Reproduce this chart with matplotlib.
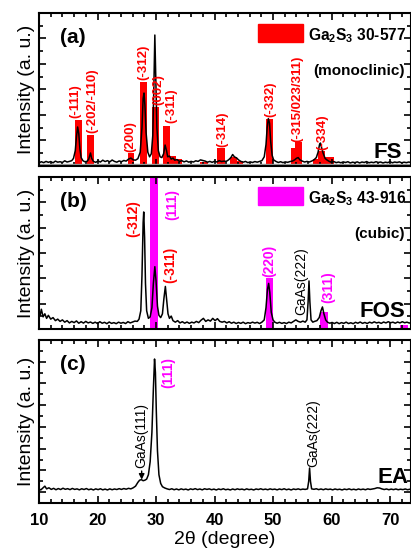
import matplotlib
matplotlib.use("Agg")
import matplotlib.pyplot as plt
from matplotlib.patches import Rectangle
from matplotlib.ticker import MultipleLocator

plt.rcParams["font.family"] = ["Liberation Sans", "DejaVu Sans"]
plt.rcParams["mathtext.fontset"] = "custom"
plt.rcParams["mathtext.rm"] = "Liberation Sans:bold"
plt.rcParams["mathtext.default"] = "rm"

RED = "#ff0000"
MAG = "#ff00ff"

# ─── (a) FS: measured pattern (2theta, intensity) ────────────────────────────
fs_points = [
    (10.0, 2.0), (10.4, 2.8), (10.8, 2.2), (11.2, 3.0), (11.6, 2.4), (12.0, 2.9), (12.4, 2.1), (12.8, 3.2), (13.2, 2.5), (13.6, 2.8),
    (14.0, 2.3), (14.4, 3.4), (14.8, 2.6), (15.2, 3.0), (15.6, 3.5), (15.9, 5.0), (16.2, 10.0), (16.4, 19.0), (16.6, 25.5), (16.8, 21.0),
    (17.0, 11.0), (17.2, 5.5), (17.5, 3.5), (17.8, 2.8), (18.2, 3.0), (18.5, 4.5), (18.8, 8.5), (19.0, 5.0), (19.3, 3.0), (19.7, 2.4),
    (20.1, 3.3), (20.5, 2.6), (20.9, 3.8), (21.3, 2.9), (21.7, 3.5), (22.1, 2.7), (22.5, 3.9), (22.9, 3.0), (23.3, 2.5), (23.7, 3.3),
    (24.1, 2.8), (24.5, 3.6), (24.9, 3.2), (25.3, 4.5), (25.7, 5.2), (26.1, 4.0), (26.5, 3.8), (26.9, 4.8), (27.3, 9.0), (27.6, 25.0),
    (27.8, 44.0), (27.95, 47.7), (28.1, 40.0), (28.3, 22.0), (28.6, 9.0), (28.9, 6.0), (29.2, 8.0), (29.45, 20.0), (29.65, 55.0), (29.8, 85.6),
    (29.95, 60.0), (30.15, 25.0), (30.4, 10.0), (30.7, 6.0), (31.0, 5.5), (31.3, 8.0), (31.55, 13.7), (31.8, 10.0), (32.0, 6.0), (32.3, 6.5),
    (32.6, 4.5), (32.9, 5.2), (33.2, 3.8), (33.6, 4.2), (34.0, 3.0), (34.4, 3.5), (34.8, 2.7), (35.2, 3.3), (35.6, 2.5), (36.0, 3.0),
    (36.4, 2.6), (36.8, 3.4), (37.2, 3.0), (37.6, 4.0), (38.0, 3.6), (38.4, 3.2), (38.8, 2.5), (39.2, 3.0), (39.6, 2.4), (40.0, 3.1),
    (40.4, 2.6), (40.8, 3.5), (41.2, 2.9), (41.6, 3.2), (42.0, 3.0), (42.4, 4.0), (42.8, 5.5), (43.1, 7.5), (43.4, 6.0), (43.8, 5.2),
    (44.1, 4.0), (44.5, 3.0), (44.9, 2.5), (45.3, 3.0), (45.7, 2.2), (46.1, 2.7), (46.5, 2.3), (46.9, 2.9), (47.3, 2.5), (47.7, 3.0),
    (48.1, 3.5), (48.5, 6.0), (48.8, 14.0), (49.0, 25.0), (49.2, 31.0), (49.4, 28.0), (49.6, 16.0), (49.85, 7.0), (50.1, 4.0), (50.5, 3.0),
    (50.9, 2.3), (51.3, 2.8), (51.7, 2.2), (52.1, 2.7), (52.5, 2.4), (52.9, 2.9), (53.3, 3.2), (53.7, 4.0), (54.0, 5.0), (54.3, 5.5),
    (54.6, 4.0), (55.0, 3.2), (55.4, 2.6), (55.8, 3.0), (56.2, 2.6), (56.6, 3.2), (57.0, 4.0), (57.4, 5.5), (57.7, 9.0), (57.95, 14.0),
    (58.1, 15.0), (58.3, 12.0), (58.6, 8.0), (58.9, 5.0), (59.2, 4.0), (59.6, 3.0), (60.0, 2.4), (60.4, 2.9), (60.8, 2.2), (61.2, 2.6),
    (61.6, 2.1), (62.0, 2.7), (62.4, 2.3), (62.8, 2.8), (63.2, 2.0), (63.6, 2.5), (64.0, 2.2), (64.4, 2.7), (64.8, 2.0), (65.2, 2.6),
    (65.6, 2.3), (66.0, 2.9), (66.4, 2.1), (66.8, 2.5), (67.2, 2.2), (67.6, 2.8), (68.0, 2.3), (68.4, 2.6), (68.8, 2.0), (69.2, 2.5),
    (69.6, 2.2), (70.0, 2.8), (70.4, 2.1), (70.8, 2.6), (71.2, 2.3), (71.6, 2.7), (72.0, 2.1), (72.4, 2.5), (72.8, 2.2), (73.2, 2.6), (73.6, 2.3),
]

# Ga2S3 30-577 reference lines (monoclinic)
fs_ref_pos    = [16.7, 18.8, 25.7, 27.9, 29.9, 31.8, 32.9, 33.9, 38.2, 41.1, 43.25,
                 44.35, 47.95, 49.4, 53.5, 54.4, 57.25, 58.3, 59.7, 64.7, 70.2]
fs_ref_height = [30, 20, 8.5, 55, 38.5, 26, 6.5, 4.5, 2.6, 11.7, 6,
                 3, 1.5, 31, 11.7, 15.7, 4.5, 9.5, 6, 1.5, 1]
fs_ref_width  = [1.15, 1.15, 1.1, 1.2, 1.1, 1.15, 1.0, 1.0, 1.4, 1.3, 1.1,
                 1.1, 1.3, 1.2, 1.0, 1.2, 0.9, 1.1, 1.6, 2.5, 2.9]

fs_hkl   = ["(-111)", "(-202/-110)", "(200)", "(-312)", "(002)", "(-311)",
            "(-314)", "(-332)", "(-315/023/311)", "(-334)"]
fs_hkl_x = [16.2, 19.2, 25.6, 27.8, 30.35, 32.6, 41.3, 49.5, 54.2, 58.4]
fs_hkl_y = [31.4, 21.6, 9.2, 56.2, 39.9, 28.1, 12.4, 32.0, 15.7, 10.5]

# ─── (b) FOS ────────────────────────────────────────────────────────────────
fos_points = [
    (10.0, 12.0), (10.2, 9.0), (10.4, 13.0), (10.7, 8.0), (11.0, 10.0), (11.3, 7.0), (11.6, 9.0), (12.0, 6.5), (12.4, 7.5), (12.8, 5.5),
    (13.2, 6.5), (13.6, 5.0), (14.0, 6.0), (14.4, 4.5), (14.8, 5.5), (15.2, 4.0), (15.6, 5.0), (16.0, 4.2), (16.4, 5.3), (16.8, 3.8),
    (17.2, 4.8), (17.6, 3.9), (18.0, 5.0), (18.4, 4.0), (18.8, 4.6), (19.2, 3.7), (19.6, 4.5), (20.0, 3.6), (20.4, 4.8), (20.8, 3.8),
    (21.2, 4.4), (21.6, 3.5), (22.0, 4.6), (22.4, 3.7), (22.8, 4.2), (23.2, 3.5), (23.6, 4.5), (24.0, 3.8), (24.4, 4.3), (24.8, 3.6),
    (25.2, 4.8), (25.6, 4.0), (26.0, 4.6), (26.4, 5.2), (26.8, 5.0), (27.1, 6.5), (27.4, 12.0), (27.6, 35.0), (27.8, 70.0), (27.9, 77.0),
    (28.05, 60.0), (28.2, 30.0), (28.4, 12.0), (28.7, 7.0), (29.0, 8.0), (29.3, 14.0), (29.55, 30.0), (29.8, 41.0), (30.0, 32.0), (30.25, 15.0),
    (30.5, 9.0), (30.8, 7.5), (31.1, 10.0), (31.35, 20.0), (31.6, 28.0), (31.8, 20.0), (32.05, 10.0), (32.3, 7.0), (32.6, 8.5), (32.9, 5.5),
    (33.3, 4.5), (33.7, 5.5), (34.1, 4.0), (34.5, 4.8), (34.9, 3.8), (35.3, 4.6), (35.7, 3.7), (36.1, 4.5), (36.5, 4.0), (36.9, 5.0),
    (37.3, 4.2), (37.7, 5.8), (38.1, 7.0), (38.5, 5.0), (38.9, 6.0), (39.3, 5.2), (39.7, 7.0), (40.1, 5.5), (40.5, 6.8), (40.9, 5.0),
    (41.3, 4.5), (41.7, 5.0), (42.1, 4.0), (42.5, 4.8), (42.9, 3.8), (43.3, 4.5), (43.7, 3.6), (44.1, 4.3), (44.5, 3.7), (44.9, 4.5),
    (45.3, 3.5), (45.7, 4.2), (46.1, 3.8), (46.5, 4.5), (46.9, 3.9), (47.3, 4.4), (47.7, 3.6), (48.1, 4.5), (48.5, 6.0), (48.8, 14.0),
    (49.05, 26.0), (49.25, 30.0), (49.45, 24.0), (49.7, 11.0), (50.0, 6.0), (50.3, 4.5), (50.7, 3.8), (51.1, 4.4), (51.5, 3.7), (51.9, 4.2),
    (52.3, 3.6), (52.7, 4.5), (53.1, 4.0), (53.5, 5.0), (53.9, 6.0), (54.3, 5.0), (54.7, 4.5), (55.1, 5.2), (55.5, 4.5), (55.8, 6.0),
    (56.0, 18.0), (56.15, 31.6), (56.3, 18.0), (56.5, 6.0), (56.8, 4.5), (57.1, 5.0), (57.5, 5.5), (57.9, 7.5), (58.2, 12.0), (58.45, 14.5),
    (58.7, 10.0), (59.0, 6.0), (59.3, 4.5), (59.7, 3.8), (60.1, 4.3), (60.5, 3.6), (60.9, 4.4), (61.3, 3.5), (61.7, 4.2), (62.1, 3.7),
    (62.5, 4.5), (62.9, 3.6), (63.3, 4.1), (63.7, 3.5), (64.1, 4.4), (64.5, 3.8), (64.9, 4.6), (65.3, 3.7), (65.7, 4.3), (66.1, 3.6),
    (66.5, 4.5), (66.9, 3.9), (67.3, 4.7), (67.7, 4.0), (68.1, 4.4), (68.5, 3.7), (68.9, 4.6), (69.3, 4.0), (69.7, 4.8), (70.1, 4.1),
    (70.5, 4.5), (70.9, 3.8), (71.3, 4.6), (71.7, 4.0), (72.1, 4.8), (72.5, 4.1), (72.9, 4.5), (73.3, 3.9), (73.6, 4.3),
]

# Ga2S3 43-916 reference lines (cubic)
fos_ref_pos    = [29.7, 49.4, 58.7, 72.4]
fos_ref_height = [100, 33.6, 11, 2.6]
fos_ref_width  = [1.3, 1.2, 1.3, 1.3]

fos_hkl       = ["(-312)", "(111)", "(-311)", "(220)", "GaAs(222)", "(311)"]
fos_hkl_x     = [26.1, 32.7, 32.4, 49.4, 54.9, 59.4]
fos_hkl_y     = [60.5, 71.7, 30.3, 34.2, 9.2, 17.1]
fos_hkl_color = [RED, MAG, RED, MAG, "black", MAG]

# ─── (c) EA ─────────────────────────────────────────────────────────────────
ea_points = [
    (10.0, 3.0), (10.3, 2.0), (10.6, 3.5), (11.0, 5.5), (11.3, 3.0), (11.7, 4.0), (12.1, 2.5), (12.5, 3.5), (12.9, 2.2), (13.3, 3.3),
    (13.7, 2.4), (14.1, 3.6), (14.5, 2.6), (14.9, 3.2), (15.3, 2.3), (15.7, 3.4), (16.1, 2.5), (16.5, 3.0), (16.9, 2.1), (17.3, 3.1),
    (17.7, 2.4), (18.1, 3.3), (18.5, 2.2), (18.9, 2.9), (19.3, 2.0), (19.7, 3.0), (20.1, 2.3), (20.5, 3.1), (20.9, 2.1), (21.3, 2.8),
    (21.7, 2.0), (22.1, 3.0), (22.5, 2.2), (22.9, 2.9), (23.3, 2.4), (23.7, 3.2), (24.1, 2.5), (24.5, 3.3), (24.9, 2.7), (25.3, 3.5),
    (25.7, 3.0), (26.1, 4.0), (26.5, 5.5), (26.9, 9.0), (27.2, 11.0), (27.5, 11.5), (27.8, 10.5), (28.1, 11.0), (28.4, 12.0), (28.7, 16.0),
    (29.0, 28.0), (29.3, 55.0), (29.55, 95.0), (29.75, 122.5), (29.9, 110.0), (30.05, 75.0), (30.25, 38.0), (30.5, 16.0), (30.8, 8.0), (31.1, 5.0),
    (31.5, 3.8), (31.9, 3.0), (32.3, 2.4), (32.7, 3.1), (33.1, 2.2), (33.5, 2.9), (33.9, 2.1), (34.3, 3.0), (34.7, 2.3), (35.1, 2.8),
    (35.5, 2.0), (35.9, 3.0), (36.3, 2.4), (36.7, 3.2), (37.1, 2.3), (37.5, 2.9), (37.9, 2.1), (38.3, 3.1), (38.7, 2.5), (39.1, 3.0),
    (39.5, 2.2), (39.9, 2.8), (40.3, 2.0), (40.7, 2.9), (41.1, 2.3), (41.5, 3.1), (41.9, 2.2), (42.3, 2.7), (42.7, 2.0), (43.1, 2.9),
    (43.5, 2.2), (43.9, 3.0), (44.3, 2.4), (44.7, 2.8), (45.1, 2.1), (45.5, 3.0), (45.9, 2.3), (46.3, 2.7), (46.7, 2.0), (47.1, 2.9),
    (47.5, 2.4), (47.9, 3.1), (48.3, 2.3), (48.7, 2.8), (49.1, 2.2), (49.5, 3.0), (49.9, 2.4), (50.3, 2.8), (50.7, 2.1), (51.1, 2.9),
    (51.5, 2.3), (51.9, 3.1), (52.3, 2.2), (52.7, 2.8), (53.1, 2.0), (53.5, 2.9), (53.9, 2.4), (54.3, 3.0), (54.7, 2.3), (55.1, 2.8),
    (55.5, 2.5), (55.9, 3.0), (56.1, 10.0), (56.25, 22.2), (56.4, 10.0), (56.6, 3.0), (57.0, 2.6), (57.4, 3.1), (57.8, 2.3), (58.2, 2.9),
    (58.6, 2.2), (59.0, 3.0), (59.4, 2.4), (59.8, 2.8), (60.2, 2.1), (60.6, 2.9), (61.0, 2.3), (61.4, 2.7), (61.8, 2.0), (62.2, 2.8),
    (62.6, 2.3), (63.0, 3.0), (63.4, 2.2), (63.8, 2.7), (64.2, 2.1), (64.6, 2.9), (65.0, 2.3), (65.4, 2.8), (65.8, 2.2), (66.2, 3.0),
    (66.6, 2.5), (67.0, 2.9), (67.4, 3.3), (67.8, 4.0), (68.2, 3.8), (68.6, 3.0), (69.0, 2.4), (69.4, 2.9), (69.8, 2.2), (70.2, 2.8),
    (70.6, 2.3), (71.0, 2.9), (71.4, 2.2), (71.8, 2.7), (72.2, 2.3), (72.6, 2.9), (73.0, 2.2), (73.4, 2.7), (73.6, 2.4),
]

ea_gaas111 = (27.55, 11.5)
ea_hkl       = ["(111)", "GaAs(222)"]
ea_hkl_x     = [32.1, 56.9]
ea_hkl_y     = [95.8, 23.1]
ea_hkl_color = [MAG, "black"]

# ─── Figure ─────────────────────────────────────────────────────────────────
fig = plt.figure(figsize=(4.11, 5.56), dpi=100)
L, W = 39 / 411, 371.5 / 411
ax_a = fig.add_axes([L, 1 - 166 / 556, W, 153 / 556])
ax_b = fig.add_axes([L, 1 - 329 / 556, W, 152 / 556])
ax_c = fig.add_axes([L, 1 - 503 / 556, W, 163 / 556])


def style(ax):
    ax.set_xlim(10, 73.5)
    ax.xaxis.set_major_locator(MultipleLocator(10))
    ax.xaxis.set_minor_locator(MultipleLocator(2))
    ax.tick_params(which="both", direction="in", top=True, right=True,
                   width=1.2, labelleft=False, labelbottom=False)
    ax.tick_params(which="major", length=4.8)
    ax.tick_params(which="minor", length=2.6)
    for sp in ax.spines.values():
        sp.set_linewidth(1.5)
    ax.set_ylabel("Intensity (a. u.)", fontsize=14)
    ax.yaxis.set_label_coords(-0.012, 0.5)


def legend_key(ax, color, y0, title, subtitle):
    ax.add_patch(Rectangle((0.589, y0), 0.122, 0.115, transform=ax.transAxes,
                           color=color, clip_on=False))
    ax.text(0.723, y0 + 0.012, title, transform=ax.transAxes, fontsize=11.2,
            fontweight="bold", ha="left", va="baseline")
    ax.text(0.984, y0 - 0.215, subtitle, transform=ax.transAxes, fontsize=11,
            fontweight="bold", ha="right", va="baseline")


# ── (a) ──
fs_x, fs_y = zip(*fs_points)
ax_a.bar(fs_ref_pos, fs_ref_height, width=fs_ref_width, color=RED, zorder=1)
ax_a.axhline(1.2, color="0.6", lw=1.0, zorder=2)
ax_a.plot(fs_x, fs_y, color="black", lw=1.1, zorder=3)
for s, x, y in zip(fs_hkl, fs_hkl_x, fs_hkl_y):
    ax_a.text(x, y, s, rotation=90, ha="center", va="bottom", color=RED,
              fontsize=9.5, fontweight="bold", zorder=4)
ax_a.set_ylim(0, 100)
style(ax_a)
ax_a.yaxis.set_major_locator(MultipleLocator(100 / 6))
ax_a.yaxis.set_minor_locator(MultipleLocator(100 / 12))
ax_a.text(0.092, 0.843, "(a)", transform=ax_a.transAxes, fontsize=15,
          fontweight="bold", ha="center", va="center")
ax_a.text(72.05, 5.2, "FS", fontsize=16, fontweight="bold", ha="right", va="baseline")
legend_key(ax_a, RED, 0.81, "Ga$_2$S$_3$ 30-577", "(monoclinic)")

# ── (b) ──
fos_x, fos_y = zip(*fos_points)
ax_b.bar(fos_ref_pos, fos_ref_height, width=fos_ref_width, color=MAG, zorder=1)
ax_b.plot(fos_x, fos_y, color="black", lw=1.1, zorder=3)
for s, x, y, c in zip(fos_hkl, fos_hkl_x, fos_hkl_y, fos_hkl_color):
    ax_b.text(x, y, s, rotation=90, ha="center", va="bottom", color=c,
              fontsize=10, fontweight="normal" if s.startswith("GaAs") else "bold",
              zorder=4)
ax_b.set_ylim(0, 100)
style(ax_b)
ax_b.yaxis.set_major_locator(MultipleLocator(100 / 6))
ax_b.yaxis.set_minor_locator(MultipleLocator(100 / 12))
ax_b.text(0.092, 0.836, "(b)", transform=ax_b.transAxes, fontsize=15,
          fontweight="bold", ha="center", va="center")
ax_b.text(72.6, 7.9, "FOS", fontsize=16, fontweight="bold", ha="right", va="baseline")
legend_key(ax_b, MAG, 0.816, "Ga$_2$S$_3$ 43-916", "(cubic)")

# ── (c) ──
ea_x, ea_y = zip(*ea_points)
ax_c.plot(ea_x, ea_y, color="black", lw=1.1, zorder=3)
ax_c.annotate("GaAs(111)", xy=ea_gaas111, xytext=(ea_gaas111[0], 22.0),
              rotation=90, ha="center", va="bottom", fontsize=10,
              arrowprops=dict(arrowstyle="-|>", color="black", lw=1.0,
                              mutation_scale=8, shrinkA=0, shrinkB=0))
for s, x, y, c in zip(ea_hkl, ea_hkl_x, ea_hkl_y, ea_hkl_color):
    ax_c.text(x, y, s, rotation=90, ha="center", va="bottom", color=c,
              fontsize=10, fontweight="normal" if s.startswith("GaAs") else "bold")
ax_c.set_ylim(-10, 140)
style(ax_c)
ax_c.yaxis.set_major_locator(MultipleLocator(20))
ax_c.yaxis.set_minor_locator(MultipleLocator(10))
ax_c.tick_params(labelbottom=True, labelsize=12, pad=7)
for lab in ax_c.get_xticklabels():
    lab.set_fontweight("bold")
ax_c.text(0.092, 0.847, "(c)", transform=ax_c.transAxes, fontsize=15,
          fontweight="bold", ha="center", va="center")
ax_c.text(73.1, 8.4, "EA", fontsize=16, fontweight="bold", ha="right", va="baseline")
ax_c.set_xlabel("2\u03b8 (degree)", fontsize=14, labelpad=2)

fig.savefig("out.png", dpi=100)
plt.close(fig)
